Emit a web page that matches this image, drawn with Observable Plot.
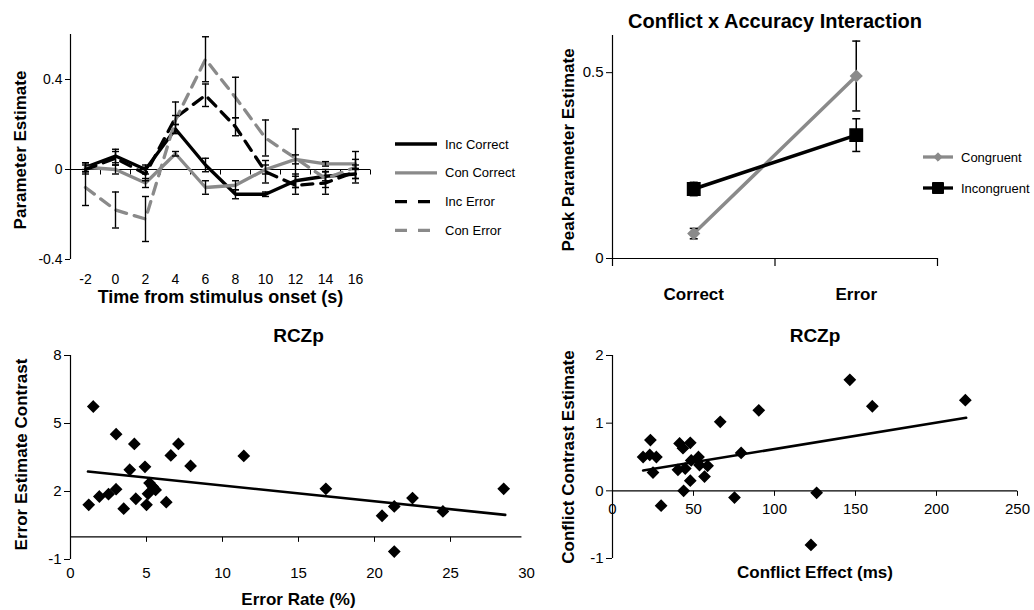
<!DOCTYPE html>
<html><head><meta charset="utf-8">
<script src="https://cdn.jsdelivr.net/npm/d3@7"></script>
<script src="https://cdn.jsdelivr.net/npm/@observablehq/plot@0.6"></script>
<style>
html,body{margin:0;padding:0;background:#fff;}
#root{position:relative;width:1034px;height:610px;overflow:hidden;font-family:"Liberation Sans",Arial,Helvetica,sans-serif;}
.panel{position:absolute;}
</style></head><body><div id="root"></div>
<script>
// ---------- Panel A data ----------
const timePoints = [-2, 0, 2, 4, 6, 8, 10, 12, 14, 16];
const incCorrect    = [0.01, 0.06, 0.00, 0.18, 0.02, -0.11, -0.11, -0.05, -0.03, -0.02];
const incCorrectErr = [0.02, 0.03, 0.02, 0.02, 0.03, 0.02, 0.01, 0.03, 0.02, 0.02];
const conCorrect    = [0.01, 0.00, -0.06, 0.07, -0.08, -0.07, 0.00, 0.045, 0.025, 0.025];
const conCorrectErr = [0.02, 0.02, 0.02, 0.01, 0.03, 0.02, 0.02, 0.02, 0.01, 0.02];
const incError      = [0.00, 0.05, -0.02, 0.23, 0.33, 0.19, -0.01, -0.07, -0.06, -0.01];
const incErrorErr   = [0.02, 0.03, 0.03, 0.07, 0.05, 0.04, 0.05, 0.04, 0.05, 0.03];
const conError      = [-0.08, -0.18, -0.22, 0.22, 0.49, 0.32, 0.14, 0.05, -0.04, 0.01];
const conErrorErr   = [0.08, 0.08, 0.10, 0.02, 0.10, 0.09, 0.08, 0.13, 0.04, 0.07];
const seriesNamesA = ["Inc Correct", "Con Correct", "Inc Error", "Con Error"];
const yTicksA = [-0.4, 0, 0.4];

// ---------- Panel B data ----------
const accuracyCats = ["Correct", "Error"];
const congruent       = [0.067, 0.491];
const congruentErr    = [0.014, 0.094];
const incongruent     = [0.187, 0.332];
const incongruentErr  = [0.018, 0.044];
const seriesNamesB = ["Congruent", "Incongruent"];
const yTicksB = [0, 0.5];

// ---------- Panel C data ----------
const errorRate = [1.2,1.5,1.9,2.5,3.0,3.0,3.5,3.9,4.2,4.3,4.9,5.0,5.2,5.1,5.4,5.6,6.3,6.6,7.1,7.9,11.4,16.8,20.5,21.3,21.3,22.5,24.5,28.5];
const errorContrast = [1.41,5.75,1.78,1.88,2.10,4.53,1.24,2.96,4.10,1.68,3.09,1.41,2.37,1.90,2.22,2.07,1.53,3.59,4.10,3.13,3.57,2.12,0.93,1.34,-0.65,1.71,1.12,2.12];
const trendCx = [1.15, 28.6];
const trendCy = [2.88, 0.97];
const xTicksC = [0, 5, 10, 15, 20, 25, 30];
const yTicksC = [-1, 2, 5, 8];

// ---------- Panel D data ----------
const conflictEffect = [18.9,23,23.4,27.1,25,30,40.4,41.4,43.5,43.9,44.9,48,48,48.6,53.1,53.7,56.8,58.7,66.5,75.3,79.4,90.3,122.5,126,146.5,160.4,217.8];
const conflictContrast = [0.50,0.53,0.75,0.50,0.27,-0.22,0.31,0.70,0.63,0.00,0.33,0.71,0.15,0.45,0.50,0.38,0.21,0.37,1.02,-0.10,0.56,1.19,-0.80,-0.03,1.64,1.25,1.34];
const trendDx = [18.9, 218.3];
const trendDy = [0.30, 1.08];
const xTicksD = [0, 50, 100, 150, 200, 250];
const yTicksD = [-1, 0, 1, 2];

// ---------- styles ----------
const FONT = '"Liberation Sans", Arial, Helvetica, sans-serif';
const GRAY = "#8a8a8a";
const BLACK = "#000";
const styleA = {
  "Inc Correct": {stroke: BLACK, dash: null},
  "Con Correct": {stroke: GRAY, dash: null},
  "Inc Error":   {stroke: BLACK, dash: "11,8"},
  "Con Error":   {stroke: GRAY, dash: "11,8"}
};
const hCap = {draw(ctx, size){ const r = Math.sqrt(size/Math.PI); ctx.moveTo(-r,0); ctx.lineTo(r,0); }};
const vTickDown = {draw(ctx, size){ const r = Math.sqrt(size/Math.PI); ctx.moveTo(0,0); ctx.lineTo(0,r); }};
const numFmt = d => String(d);
const baseStyle = {fontFamily: FONT, background: "transparent", overflow: "visible", color: "#000"};
const root = document.getElementById("root");
function place(el, left, top){ el.classList.add("panel"); el.style.left = left+"px"; el.style.top = top+"px"; root.appendChild(el); }

// ---------- Panel A ----------
const valsA = [incCorrect, conCorrect, incError, conError];
const errsA = [incCorrectErr, conCorrectErr, incErrorErr, conErrorErr];
const rowsA = seriesNamesA.flatMap((s, k) => timePoints.map((t, i) => ({series: s, t, v: valsA[k][i], e: errsA[k][i]})));
const boundsA = timePoints.map(t => t + 1);
const plotA = Plot.plot({
  width: 380, height: 305,
  marginLeft: 70, marginRight: 10, marginTop: 34, marginBottom: 46,
  style: baseStyle,
  x: {domain: [timePoints[0]-1, timePoints[timePoints.length-1]+1], axis: null, label: null},
  y: {domain: [-0.4, 0.6], axis: null, label: null},
  marks: [
    Plot.ruleX([timePoints[0]-1], {y1: -0.4, y2: 0.6, stroke: BLACK, strokeWidth: 1.2}),
    Plot.axisY({ticks: yTicksA, tickSize: 5, tickPadding: 3, fontSize: 14, tickFormat: d => d === 0 ? "0" : d.toFixed(1)}),
    Plot.ruleY([0], {x1: timePoints[0]-1, x2: timePoints[timePoints.length-1]+1, stroke: BLACK, strokeWidth: 1}),
    Plot.dot(boundsA, {x: d => d, y: 0, symbol: vTickDown, r: 5, stroke: BLACK, fill: "none", strokeWidth: 1}),
    Plot.axisX({ticks: timePoints, tickSize: 0, tickPadding: 15, fontSize: 14, tickFormat: numFmt}),
    ...seriesNamesA.map(s => Plot.line(rowsA.filter(r => r.series === s), {x: "t", y: "v", stroke: styleA[s].stroke, strokeWidth: 3.3, strokeDasharray: styleA[s].dash})),
    Plot.ruleX(rowsA, {x: "t", y1: d => d.v - d.e, y2: d => d.v + d.e, stroke: BLACK, strokeWidth: 1.4}),
    Plot.dot(rowsA, {x: "t", y: d => d.v + d.e, symbol: hCap, r: 3.5, stroke: BLACK, fill: "none", strokeWidth: 1.4}),
    Plot.dot(rowsA, {x: "t", y: d => d.v - d.e, symbol: hCap, r: 3.5, stroke: BLACK, fill: "none", strokeWidth: 1.4}),
    Plot.text(["Time from stimulus onset (s)"], {text: d => d, frameAnchor: "bottom", dy: 43, fontSize: 18, fontWeight: "bold"}),
    Plot.text(["Parameter Estimate"], {text: d => d, frameAnchor: "left", rotate: -90, dx: -50, dy: 3, textAnchor: "middle", fontSize: 17, fontWeight: "bold"})
  ]
});
place(plotA, 0, 0);

// ---------- Panel B ----------
const valsB = [congruent, incongruent];
const errsB = [congruentErr, incongruentErr];
const rowsB = seriesNamesB.flatMap((s, k) => accuracyCats.map((c, i) => ({series: s, pos: i + 0.5, v: valsB[k][i], e: errsB[k][i]})));
const plotB = Plot.plot({
  width: 514, height: 305,
  marginLeft: 92, marginRight: 97, marginTop: 35, marginBottom: 47,
  style: baseStyle,
  x: {domain: [0, accuracyCats.length], axis: null, label: null},
  y: {domain: [0, 0.6], axis: null, label: null},
  marks: [
    Plot.ruleX([0], {y1: 0, y2: 0.6, stroke: BLACK, strokeWidth: 1.2}),
    Plot.ruleY([0], {x1: 0, x2: accuracyCats.length, stroke: BLACK, strokeWidth: 1.2}),
    Plot.axisY({ticks: yTicksB, tickSize: 6, tickPadding: 3, fontSize: 15, tickFormat: numFmt}),
    Plot.axisX({ticks: d3.range(accuracyCats.length + 1), tickSize: 8, tickFormat: () => "", strokeWidth: 1.2}),
    Plot.axisX({ticks: accuracyCats.map((c, i) => i + 0.5), tickSize: 0, tickPadding: 29, fontSize: 17, fontWeight: "bold", tickFormat: d => accuracyCats[d - 0.5]}),
    Plot.line(rowsB.filter(r => r.series === "Congruent"), {x: "pos", y: "v", stroke: GRAY, strokeWidth: 3.5}),
    Plot.line(rowsB.filter(r => r.series === "Incongruent"), {x: "pos", y: "v", stroke: BLACK, strokeWidth: 3.5}),
    Plot.ruleX(rowsB, {x: "pos", y1: d => d.v - d.e, y2: d => d.v + d.e, stroke: BLACK, strokeWidth: 1.5}),
    Plot.dot(rowsB, {x: "pos", y: d => d.v + d.e, symbol: hCap, r: 4, stroke: BLACK, fill: "none", strokeWidth: 1.5}),
    Plot.dot(rowsB, {x: "pos", y: d => d.v - d.e, symbol: hCap, r: 4, stroke: BLACK, fill: "none", strokeWidth: 1.5}),
    Plot.dot(rowsB.filter(r => r.series === "Congruent"), {x: "pos", y: "v", symbol: "diamond2", r: 5, fill: GRAY, stroke: GRAY}),
    Plot.dot(rowsB.filter(r => r.series === "Incongruent"), {x: "pos", y: "v", symbol: "square", r: 7, fill: BLACK, stroke: BLACK}),
    Plot.text(["Conflict x Accuracy Interaction"], {text: d => d, frameAnchor: "top", dy: -22, fontSize: 20, fontWeight: "bold"}),
    Plot.text(["Peak Parameter Estimate"], {text: d => d, frameAnchor: "left", rotate: -90, dx: -44, dy: 3, textAnchor: "middle", fontSize: 17, fontWeight: "bold"})
  ]
});
place(plotB, 520, 0);

// ---------- Panel C ----------
const ptsC = errorRate.map((x, i) => ({x, y: errorContrast[i]}));
const trendC = trendCx.map((x, i) => ({x, y: trendCy[i]}));
const plotC = Plot.plot({
  width: 545, height: 305,
  marginLeft: 70, marginRight: 19, marginTop: 50, marginBottom: 51,
  style: baseStyle,
  x: {domain: [0, 30], axis: null, label: null},
  y: {domain: [-1, 8], axis: null, label: null},
  marks: [
    Plot.ruleX([0], {y1: -1, y2: 8, stroke: BLACK, strokeWidth: 1.2}),
    Plot.axisY({ticks: yTicksC, tickSize: 6, tickPadding: 3, fontSize: 15, tickFormat: numFmt}),
    Plot.ruleY([0], {x1: 0, x2: 29.7, stroke: BLACK, strokeWidth: 1.2}),
    Plot.dot(xTicksC.slice(1, -1), {x: d => d, y: 0, symbol: vTickDown, r: 5, stroke: BLACK, fill: "none", strokeWidth: 1}),
    Plot.axisX({ticks: xTicksC, tickSize: 0, tickPadding: 8, fontSize: 15, tickFormat: numFmt}),
    Plot.line(trendC, {x: "x", y: "y", stroke: BLACK, strokeWidth: 2.6}),
    Plot.dot(ptsC, {x: "x", y: "y", symbol: "diamond2", r: 4.8, fill: BLACK, stroke: BLACK}),
    Plot.text(["RCZp"], {text: d => d, frameAnchor: "top", dy: -27, fontSize: 19, fontWeight: "bold"}),
    Plot.text(["Error Rate (%)"], {text: d => d, frameAnchor: "bottom", dy: 45, fontSize: 17, fontWeight: "bold"}),
    Plot.text(["Error Estimate Contrast"], {text: d => d, frameAnchor: "left", rotate: -90, dx: -49, dy: -3, textAnchor: "middle", fontSize: 17, fontWeight: "bold"})
  ]
});
place(plotC, 0, 305);

// ---------- Panel D ----------
const ptsD = conflictEffect.map((x, i) => ({x, y: conflictContrast[i]}));
const trendD = trendDx.map((x, i) => ({x, y: trendDy[i]}));
const plotD = Plot.plot({
  width: 514, height: 305,
  marginLeft: 92, marginRight: 17, marginTop: 50, marginBottom: 52,
  style: baseStyle,
  x: {domain: [0, 250], axis: null, label: null},
  y: {domain: [-1, 2], axis: null, label: null},
  marks: [
    Plot.ruleX([0], {y1: -1, y2: 2, stroke: BLACK, strokeWidth: 1.2}),
    Plot.axisY({ticks: yTicksD, tickSize: 6, tickPadding: 3, fontSize: 15, tickFormat: numFmt}),
    Plot.ruleY([0], {x1: 0, x2: 250, stroke: BLACK, strokeWidth: 1.2}),
    Plot.dot(xTicksD.slice(1), {x: d => d, y: 0, symbol: vTickDown, r: 5, stroke: BLACK, fill: "none", strokeWidth: 1}),
    Plot.text(xTicksD, {x: d => d, y: 0, text: numFmt, dy: 18, fontSize: 15}),
    Plot.line(trendD, {x: "x", y: "y", stroke: BLACK, strokeWidth: 2.6}),
    Plot.dot(ptsD, {x: "x", y: "y", symbol: "diamond2", r: 4.8, fill: BLACK, stroke: BLACK}),
    Plot.text(["RCZp"], {text: d => d, frameAnchor: "top", dy: -27, fontSize: 19, fontWeight: "bold"}),
    Plot.text(["Conflict Effect (ms)"], {text: d => d, frameAnchor: "bottom", dy: 19, fontSize: 17, fontWeight: "bold"}),
    Plot.text(["Conflict Contrast Estimate"], {text: d => d, frameAnchor: "left", rotate: -90, dx: -44, textAnchor: "middle", fontSize: 17, fontWeight: "bold"})
  ]
});
place(plotD, 520, 305);

// ---------- Legends ----------
const leg = d3.select(root).append("svg").attr("class", "panel").attr("width", 1034).attr("height", 610)
  .style("left", "0px").style("top", "0px").style("pointer-events", "none").style("font-family", FONT);
// Panel A legend
const legA = leg.append("g").attr("transform", "translate(395,144)");
seriesNamesA.forEach((s, i) => {
  const g = legA.append("g").attr("transform", `translate(0,${i * 28.8})`);
  g.append("line").attr("x1", 0).attr("x2", 42).attr("y1", 0).attr("y2", 0)
    .attr("stroke", styleA[s].stroke).attr("stroke-width", 3.3)
    .attr("stroke-dasharray", styleA[s].dash ? "12,11" : null);
  g.append("text").attr("x", 50).attr("y", 0).attr("dy", "0.35em").attr("font-size", 13).text(s);
});
// Panel B legend
const legB = leg.append("g").attr("transform", "translate(923,157)");
const legBStyle = {"Congruent": {c: GRAY, sym: d3.symbolDiamond2, size: 45}, "Incongruent": {c: BLACK, sym: d3.symbolSquare, size: 120}};
seriesNamesB.forEach((s, i) => {
  const g = legB.append("g").attr("transform", `translate(0,${i * 31})`);
  g.append("line").attr("x1", 0).attr("x2", 30).attr("y1", 0).attr("y2", 0).attr("stroke", legBStyle[s].c).attr("stroke-width", 3.3);
  g.append("path").attr("transform", "translate(15,0)").attr("d", d3.symbol(legBStyle[s].sym, legBStyle[s].size)()).attr("fill", legBStyle[s].c).attr("stroke", legBStyle[s].c);
  g.append("text").attr("x", 38).attr("y", 0).attr("dy", "0.35em").attr("font-size", 13).text(s);
});
</script>
</body></html>
